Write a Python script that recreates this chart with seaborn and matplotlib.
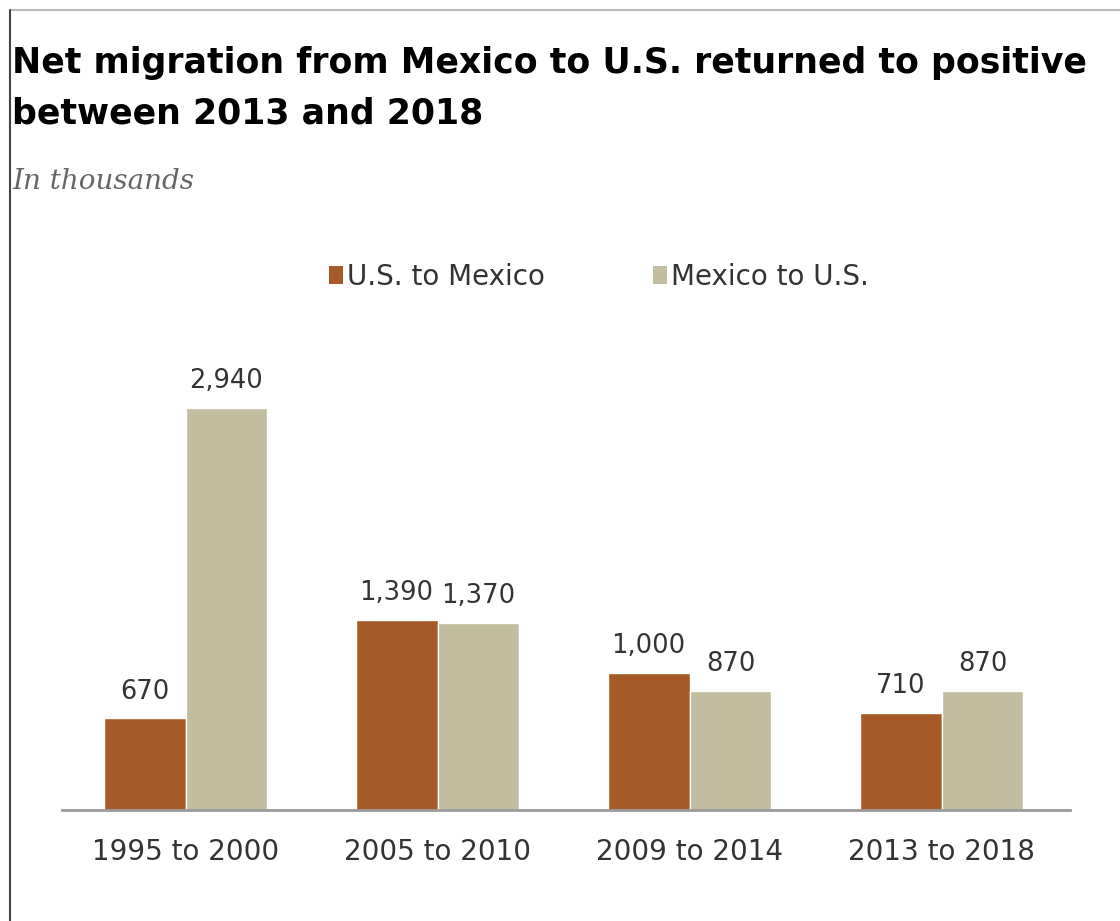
import pandas as pd
import seaborn as sns
import matplotlib.pyplot as plt
from matplotlib.patches import Patch
from matplotlib.lines import Line2D

# data (thousands)
periods = ["1995 to 2000", "2005 to 2010", "2009 to 2014", "2013 to 2018"]
us_to_mexico = [670, 1390, 1000, 710]
mexico_to_us = [2940, 1370, 870, 870]
series = ["U.S. to Mexico", "Mexico to U.S."]
colors = ["#A65A27", "#C3BD9F"]

df = pd.DataFrame({
    "period": periods * 2,
    "value": us_to_mexico + mexico_to_us,
    "type": [series[0]] * len(periods) + [series[1]] * len(periods),
})

sns.set_style("white")
plt.rcParams['font.family'] = ['DejaVu Sans']

fig = plt.figure(figsize=(11.2, 9.21), dpi=100)
ax = fig.add_axes([0.0554, 0.1205, 0.9, 0.521])

sns.barplot(data=df, x="period", y="value", hue="type", palette=colors,
            width=0.65, gap=0, saturation=1, ax=ax, legend=False)

for cont in ax.containers:
    ax.bar_label(cont, fmt='{:,.0f}', padding=10, fontsize=18.5, color="#333333")

ax.set_xlim(-0.49, 3.51)
ax.set_ylim(0, 3511)
ax.set_xlabel("")
ax.set_ylabel("")
ax.set_yticks([])
ax.tick_params(axis='x', length=0, pad=20, labelsize=20, labelcolor="#333333")
for s in ["top", "right", "left"]:
    ax.spines[s].set_visible(False)
ax.spines["bottom"].set_color("#9a9a9a")
ax.spines["bottom"].set_linewidth(2)

# legend
handles = [Patch(facecolor=c, edgecolor='none', label=l) for c, l in zip(colors, series)]
fig.legend(handles=handles, loc='center', bbox_to_anchor=(0.535, 1 - 277 / 921),
           ncol=2, frameon=False, fontsize=20, handlelength=0.5, handleheight=0.6,
           handletextpad=0.15, columnspacing=3.9, labelcolor="#333333")

# titles
fig.text(12 / 1120, 1 - 73 / 921, "Net migration from Mexico to U.S. returned to positive",
         fontsize=25, fontweight='bold', color="black", va='baseline', ha='left')
fig.text(12 / 1120, 1 - 123 / 921, "between 2013 and 2018",
         fontsize=25, fontweight='bold', color="black", va='baseline', ha='left')
fig.text(12 / 1120, 1 - 189 / 921, "In thousands", fontsize=20, style='italic',
         family=['DejaVu Serif'], color="#666666",
         va='baseline', ha='left')

# frame lines at top and left of the screenshot
fig.add_artist(Line2D([10 / 1120, 1], [1 - 10 / 921, 1 - 10 / 921],
                      transform=fig.transFigure, color="#bbbbbb", linewidth=1.5))
fig.add_artist(Line2D([10 / 1120, 10 / 1120], [0, 1 - 10 / 921],
                      transform=fig.transFigure, color="#444444", linewidth=1.5))

fig.savefig("out.png", dpi=100)
